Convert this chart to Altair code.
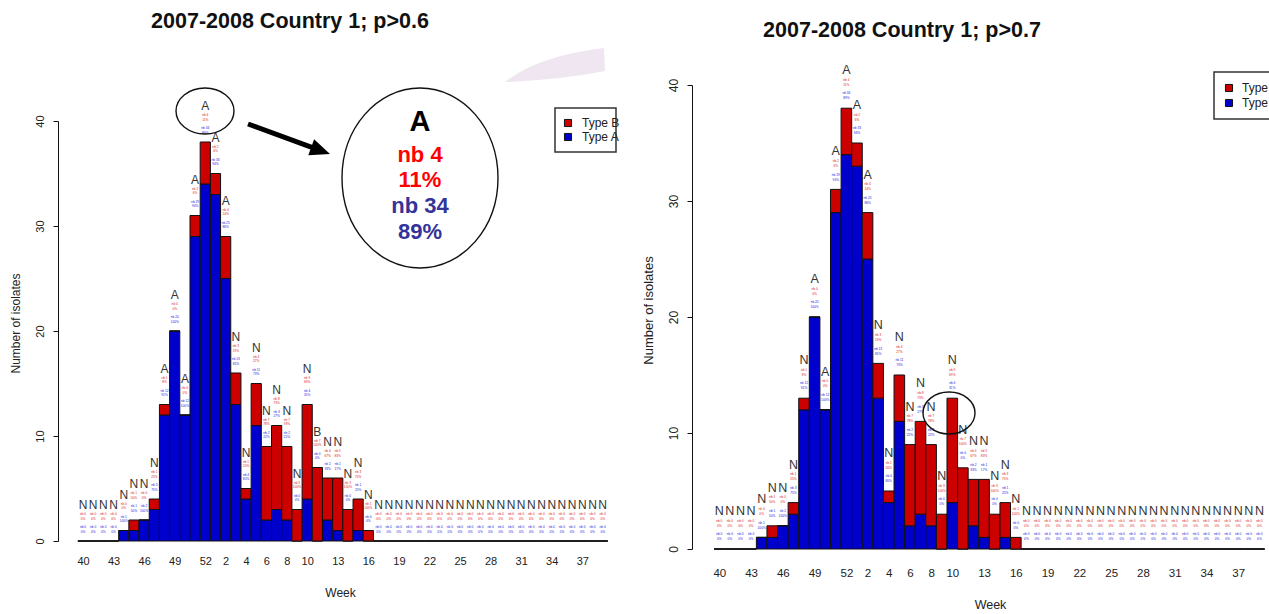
import altair as alt
import pandas as pd

# ---------------- data ----------------
title_left = "2007-2008 Country 1; p>0.6"
title_right = "2007-2008 Country 1; p>0.7"
y_title = "Number of isolates"
x_title = "Week"
legend_labels = ["Type B", "Type A"]

weeks = [40, 41, 42, 43, 44, 45, 46, 47, 48, 49, 50, 51, 52,
         1, 2, 3, 4, 5, 6, 7, 8, 9, 10, 11, 12, 13, 14, 15, 16, 17, 18, 19, 20,
         21, 22, 23, 24, 25, 26, 27, 28, 29, 30, 31, 32, 33, 34, 35, 36, 37, 38, 39]
type_a = [0, 0, 0, 0, 1, 1, 2, 3, 12, 20, 12, 29, 34,
          33, 25, 13, 4, 11, 2, 3, 2, 0, 4, 0, 2, 1, 0, 1, 0, 0, 0, 0, 0,
          0, 0, 0, 0, 0, 0, 0, 0, 0, 0, 0, 0, 0, 0, 0, 0, 0, 0, 0]
type_b = [0, 0, 0, 0, 0, 1, 0, 1, 1, 0, 0, 2, 4,
          2, 4, 3, 1, 4, 7, 8, 7, 3, 9, 7, 4, 5, 3, 3, 1, 0, 0, 0, 0,
          0, 0, 0, 0, 0, 0, 0, 0, 0, 0, 0, 0, 0, 0, 0, 0, 0, 0, 0]
letters_p06 = list("NNNNNNNN" "AAAAAAA" "NNNNNNNN" "B" "NNNNNNNNNNNNNNNNNNNNNNNNNNNN")
letters_p07 = list("NNNNNNNNN" "AAAAAA" "NNNNNNNNNNNNNNNNNNNNNNNNNNNNNNNNNNNNN")
x_tick_weeks = [40, 43, 46, 49, 52, 2, 4, 6, 8, 10, 13, 16, 19, 22, 25, 28, 31, 34, 37]
y_ticks = [0, 10, 20, 30, 40]
callout_lines = ["A", "nb 4", "11%", "nb 34", "89%"]

RED = "#cd0000"
BLUE = "#0000cd"
NARROW = "Liberation Sans Narrow, Liberation Sans, Arial"
SANS = "Liberation Sans, Arial"

# ---------------- tables ----------------
bar_rows = []
lab_rows = []
for i, (a, b) in enumerate(zip(type_a, type_b)):
    bar_rows.append({"x0": i - 0.5, "x1": i + 0.5, "y0": 0, "y1": a, "type": "Type A"})
    bar_rows.append({"x0": i - 0.5, "x1": i + 0.5, "y0": a, "y1": a + b, "type": "Type B"})
    tot = a + b
    pa = round(100 * a / tot) if tot else 0
    pb = round(100 * b / tot) if tot else 0
    lab_rows.append({"xi": i, "tot": tot, "rn": f"nb {b}", "rp": f"{pb}%",
                     "bn": f"nb {a}", "bp": f"{pa}%"})
bars_df = pd.DataFrame(bar_rows)
tick_idx = [weeks.index(w) for w in x_tick_weeks]
label_expr = "[" + ",".join(str(w) for w in weeks) + "][datum.value]"

one = pd.DataFrame({"k": [0]})


def panel(letters, xr, yr, x_off, y_off, xlp, ylp, ytitle_xy, wtitle_xy,
          tick_fs, ytick_fs, ytitle_fs, letter_fs, dys):
    xs = alt.Scale(domain=[0, len(weeks) - 1], range=xr, nice=False, zero=False)
    ys = alt.Scale(domain=[0, 40], range=yr, nice=False, zero=False)
    xaxis = alt.Axis(values=tick_idx, labelExpr=label_expr, orient="bottom", offset=x_off,
                     domain=False, ticks=False, grid=False, labelOverlap=False,
                     labelFlush=False, labelFont=NARROW, labelFontSize=tick_fs,
                     labelColor="#222", labelBaseline="middle", labelPadding=xlp,
                     title=x_title, titleX=wtitle_xy[0], titleY=wtitle_xy[1],
                     titleAlign="center", titleBaseline="middle", titleFont=NARROW,
                     titleFontSize=tick_fs + 1, titleFontWeight="normal", titleColor="#222")
    yaxis = alt.Axis(values=y_ticks, orient="left", offset=y_off, grid=False,
                     domainColor="#111", domainWidth=1, tickColor="#111", tickSize=5,
                     labelAngle=270, labelAlign="center", labelBaseline="middle",
                     labelPadding=ylp, labelFont=SANS, labelFontSize=ytick_fs,
                     labelColor="#222", labelFlush=False,
                     title=y_title, titleAngle=270, titleX=ytitle_xy[0], titleY=ytitle_xy[1],
                     titleAlign="center", titleBaseline="middle", titleFont=SANS,
                     titleFontSize=ytitle_fs, titleFontWeight="normal", titleColor="#222")
    bars = alt.Chart(bars_df).mark_bar(stroke="#111", strokeWidth=1).encode(
        x=alt.X("x0:Q", scale=xs, axis=xaxis), x2="x1:Q",
        y=alt.Y("y0:Q", scale=ys, axis=yaxis), y2="y1:Q",
        color=alt.Color("type:N", scale=alt.Scale(domain=["Type A", "Type B"],
                                                  range=[BLUE, RED]), legend=None),
    )
    ldf = pd.DataFrame(lab_rows)
    ldf["let"] = letters
    layers = [bars]
    tiny = 3.2
    specs = [("let", dys[0], "#333", letter_fs),
             ("rn", dys[1], "#e02020", tiny), ("rp", dys[2], "#e02020", tiny),
             ("bn", dys[3], "#2020e0", tiny), ("bp", dys[4], "#2020e0", tiny)]
    for field, dy, col, fs in specs:
        layers.append(
            alt.Chart(ldf).mark_text(dy=dy, color=col, fontSize=fs, font=NARROW,
                                     baseline="middle", align="center").encode(
                x=alt.X("xi:Q", scale=xs, axis=xaxis),
                y=alt.Y("tot:Q", scale=ys, axis=yaxis),
                text=f"{field}:N")
        )
    return alt.layer(*layers)


left = panel(letters_p06, [83, 602.7], [541, 121], -73, -58, 20, 13, (-43, 323), (340, 51),
             11, 11, 12, 12, [-36, -27, -22.5, -14, -9.5])
right = panel(letters_p07, [719.3, 1259.4], [549, 85], -65, -692, 24, 14, (-44, 310), (990, 55),
              11.5, 12, 13, 12.5, [-38, -28.5, -23.5, -15, -10])


def ellipse_shape(rx, ry):
    r = max(rx, ry)
    a, b = rx / r, ry / r
    k = 0.5523
    p = (f"M {a} 0 C {a} {k*b} {k*a} {b} 0 {b} C {-k*a} {b} {-a} {k*b} {-a} 0 "
         f"C {-a} {-k*b} {-k*a} {-b} 0 {-b} C {k*a} {-b} {a} {-k*b} {a} 0 Z")
    return p, (2 * r) ** 2


decor = []
# titles
for txt, px, py in [(title_left, 290, 22), (title_right, 902, 31)]:
    decor.append(alt.Chart(one).mark_text(font=SANS, fontWeight="bold", fontSize=21.5,
                                          align="center", baseline="middle", color="#111").encode(
        x=alt.value(px), y=alt.value(py), text=alt.value(txt)))

# pink swoosh decoration
decor.append(alt.Chart(one).mark_point(
    shape="M -1 0.34 Q -0.35 -0.18 0.98 -0.34 L 1 0.12 Q 0.1 0.3 -1 0.34 Z",
    filled=True, fill="#efe6f1", stroke=None, opacity=1, size=10000).encode(
    x=alt.value(555), y=alt.value(65)))

# ellipses
for cx, cy, rx, ry in [(205, 111, 29, 23), (420, 178, 78, 90), (949, 413, 26, 21)]:
    shp, sz = ellipse_shape(rx, ry)
    decor.append(alt.Chart(one).mark_point(shape=shp, filled=False, stroke="#111",
                                           strokeWidth=1.4, opacity=1, size=sz).encode(
        x=alt.value(cx), y=alt.value(cy)))

# arrow
decor.append(alt.Chart(one).mark_rule(color="#000", strokeWidth=5).encode(
    x=alt.value(248), y=alt.value(124), x2=alt.value(320), y2=alt.value(150.3)))
decor.append(alt.Chart(one).mark_point(shape="M 1 0 L -1 0.85 L -1 -0.85 Z", filled=True,
                                       fill="#000", stroke=None, opacity=1, size=400,
                                       angle=20).encode(
    x=alt.value(320.6), y=alt.value(150.6)))

# callout text
for txt, py, col, fs in zip(callout_lines, [122, 155, 180, 206, 232],
                            ["#000", "#ff0000", "#ff0000", "#333399", "#333399"],
                            [29, 22, 22, 22, 22]):
    decor.append(alt.Chart(one).mark_text(font=SANS, fontWeight="bold", fontSize=fs,
                                          align="center", baseline="middle", color=col).encode(
        x=alt.value(420), y=alt.value(py), text=alt.value(txt)))

# legends (the right one runs past the page edge, as in the original)
for bx0, by0, bx1, by1, sx, tx, ys in [(555, 108, 616, 152, 568, 582, (123, 137)),
                                      (1214, 72, 1300, 119, 1229, 1242, (88, 103))]:
    decor.append(alt.Chart(one).mark_rect(fill="white", stroke="#333", strokeWidth=1.5).encode(
        x=alt.value(bx0), x2=alt.value(bx1), y=alt.value(by0), y2=alt.value(by1)))
    for lbl, col, yy in zip(legend_labels, [RED, BLUE], ys):
        decor.append(alt.Chart(one).mark_square(size=50, fill=col, stroke="#111",
                                                strokeWidth=1, opacity=1).encode(
            x=alt.value(sx), y=alt.value(yy)))
        decor.append(alt.Chart(one).mark_text(font=NARROW, fontSize=12, align="left",
                                              baseline="middle", color="#222").encode(
            x=alt.value(tx), y=alt.value(yy), text=alt.value(lbl)))

chart = alt.layer(left, right, *decor).resolve_scale(
    x="independent", y="independent"
).properties(
    width=1269, height=614, padding=0,
    autosize=alt.AutoSizeParams(type="none"), background="white"
).configure_view(stroke=None)

chart.save("out.html", embed_options={"renderer": "svg", "actions": False})
